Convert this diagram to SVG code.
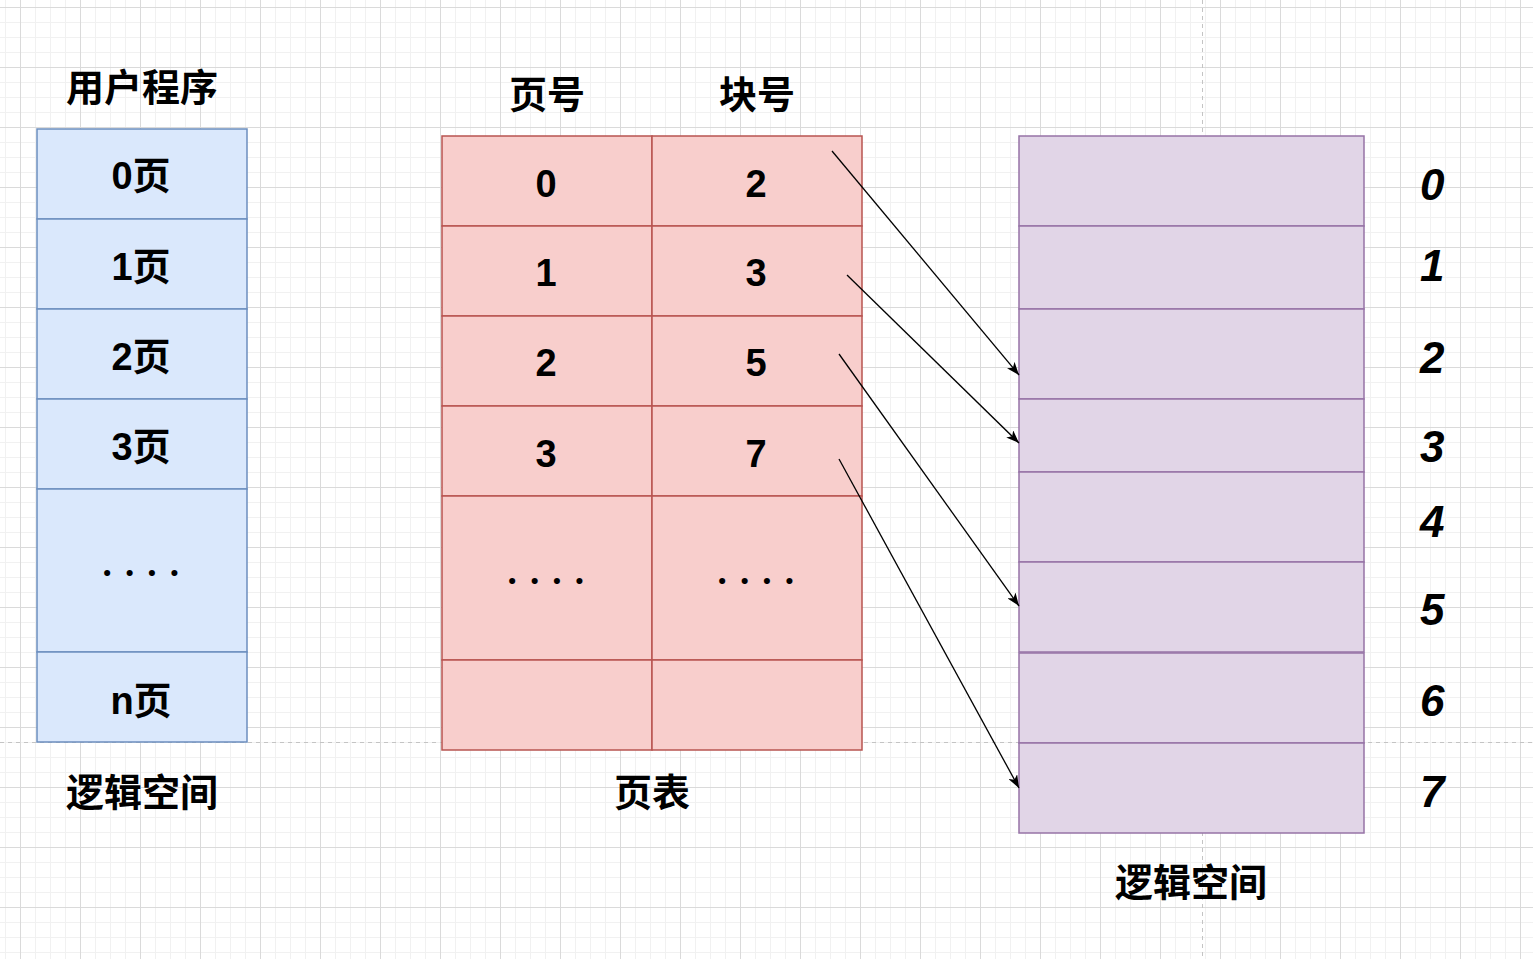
<svg xmlns="http://www.w3.org/2000/svg" width="1533" height="959" viewBox="0 0 1533 959">
<style>
.t{font-family:"Liberation Sans","Noto Sans CJK SC",sans-serif;font-weight:bold;fill:#000;text-anchor:middle}
.h{font-size:38px}
.d{font-size:38px}
.dots{font-family:Lato,"Liberation Sans",sans-serif;font-weight:900;font-size:37px;letter-spacing:2.4px}
.n{font-family:"Liberation Sans",sans-serif;font-weight:bold;font-style:italic;font-size:44px;fill:#000}
.blue{fill:#dae8fc;stroke:#6c8ebf;stroke-width:1.5}
.red{fill:#f8cecc;stroke:#b85450;stroke-width:1.5}
.purple{fill:#e1d5e7;stroke:#9673a6;stroke-width:1.5}
.edge{fill:none;stroke:#000;stroke-width:1.3;marker-end:url(#arrow)}
</style>
<defs>
<pattern id="minor" x="5" y="7" width="15" height="15" patternUnits="userSpaceOnUse">
<path d="M0.5 0V15M0 0.5H15" stroke="#f1f1f1" stroke-width="1" fill="none"/>
</pattern>
<pattern id="major" x="20" y="7" width="60" height="60" patternUnits="userSpaceOnUse">
<path d="M0.5 0V60M0 0.5H60" stroke="#dadada" stroke-width="1" fill="none"/>
</pattern>
<marker id="arrow" viewBox="0 0 13 10" refX="13" refY="5" markerWidth="13" markerHeight="10" markerUnits="userSpaceOnUse" orient="auto">
<path d="M0,0 L13,5 L0,10 L3.5,5 z" fill="#000"/>
</marker>
</defs>
<g id="background">
<rect width="1533" height="959" fill="#fff"/>
<rect width="1533" height="959" fill="url(#minor)"/>
<rect width="1533" height="959" fill="url(#major)"/>
<path d="M0 742.5H1533M1202.5 0V959" stroke="#c4c4c4" stroke-width="1" stroke-dasharray="4 4" fill="none"/>
</g>
<g id="label-user-program"><text class="t h" x="142" y="101">用户程序</text></g>
<g id="user-pages">
<g id="page0"><rect class="blue" x="37" y="129" width="210" height="90"/><text class="t d" x="141" y="189">0页</text></g>
<g id="page1"><rect class="blue" x="37" y="219" width="210" height="90"/><text class="t d" x="141" y="280">1页</text></g>
<g id="page2"><rect class="blue" x="37" y="309" width="210" height="90"/><text class="t d" x="141" y="370">2页</text></g>
<g id="page3"><rect class="blue" x="37" y="399" width="210" height="90"/><text class="t d" x="141" y="460">3页</text></g>
<g id="page-dots"><rect class="blue" x="37" y="489" width="210" height="163"/><text class="t dots" x="142" y="576">. . . .</text></g>
<g id="pagen"><rect class="blue" x="37" y="652" width="210" height="90"/><text class="t d" x="141" y="714">n页</text></g>
</g>
<g id="label-logical-left"><text class="t h" x="142" y="806">逻辑空间</text></g>
<g id="label-page-no"><text class="t h" x="547" y="108">页号</text></g>
<g id="label-block-no"><text class="t h" x="757" y="108">块号</text></g>
<g id="page-table">
<g id="pt-r0"><rect class="red" x="442" y="136" width="210" height="90"/><rect class="red" x="652" y="136" width="210" height="90"/><text class="t d" x="546" y="197">0</text><text class="t d" x="756" y="197">2</text></g>
<g id="pt-r1"><rect class="red" x="442" y="226" width="210" height="90"/><rect class="red" x="652" y="226" width="210" height="90"/><text class="t d" x="546" y="286">1</text><text class="t d" x="756" y="286">3</text></g>
<g id="pt-r2"><rect class="red" x="442" y="316" width="210" height="90"/><rect class="red" x="652" y="316" width="210" height="90"/><text class="t d" x="546" y="376">2</text><text class="t d" x="756" y="376">5</text></g>
<g id="pt-r3"><rect class="red" x="442" y="406" width="210" height="90"/><rect class="red" x="652" y="406" width="210" height="90"/><text class="t d" x="546" y="467">3</text><text class="t d" x="756" y="467">7</text></g>
<g id="pt-r4"><rect class="red" x="442" y="496" width="210" height="164"/><rect class="red" x="652" y="496" width="210" height="164"/><text class="t dots" x="547" y="584">. . . .</text><text class="t dots" x="757" y="584">. . . .</text></g>
<g id="pt-r5"><rect class="red" x="442" y="660" width="210" height="90"/><rect class="red" x="652" y="660" width="210" height="90"/></g>
</g>
<g id="label-page-table"><text class="t h" x="652" y="806">页表</text></g>
<g id="blocks">
<g id="block0"><rect class="purple" x="1019" y="136" width="345" height="90"/></g>
<g id="block1"><rect class="purple" x="1019" y="226" width="345" height="83"/></g>
<g id="block2"><rect class="purple" x="1019" y="309" width="345" height="90"/></g>
<g id="block3"><rect class="purple" x="1019" y="399" width="345" height="73"/></g>
<g id="block4"><rect class="purple" x="1019" y="472" width="345" height="90"/></g>
<g id="block5"><rect class="purple" x="1019" y="562" width="345" height="90"/></g>
<g id="block6"><rect class="purple" x="1019" y="653" width="345" height="90"/></g>
<g id="block7"><rect class="purple" x="1019" y="743" width="345" height="90"/></g>
</g>
<g id="block-numbers">
<text class="n" x="1420" y="200">0</text>
<text class="n" x="1420" y="281">1</text>
<text class="n" x="1420" y="373">2</text>
<text class="n" x="1420" y="462">3</text>
<text class="n" x="1420" y="537">4</text>
<text class="n" x="1420" y="625">5</text>
<text class="n" x="1420" y="716">6</text>
<text class="n" x="1420" y="807">7</text>
</g>
<g id="label-logical-right"><text class="t h" x="1191" y="896">逻辑空间</text></g>
<g id="connectors">
<path class="edge" d="M832 151L1019 375"/>
<path class="edge" d="M847 275L1019 443"/>
<path class="edge" d="M839 354L1019 606"/>
<path class="edge" d="M839 459L1019 788"/>
</g>
</svg>
